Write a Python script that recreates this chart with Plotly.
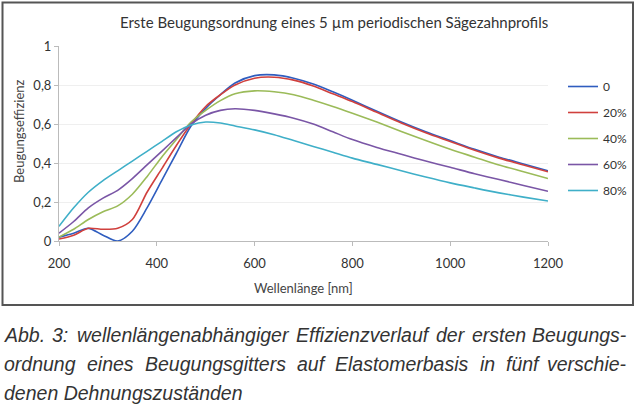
import plotly.graph_objects as go

wavelength = [200, 230, 260, 290, 320, 350, 380, 410, 440, 470, 500, 530, 560, 600,
              640, 680, 720, 760, 800, 850, 900, 950, 1000, 1050, 1100, 1150, 1200]

eff_0 = [0.02, 0.04, 0.065, 0.03, 0.0, 0.05, 0.17, 0.31, 0.45, 0.59, 0.68, 0.75, 0.81, 0.848,
         0.852, 0.835, 0.805, 0.765, 0.722, 0.665, 0.61, 0.56, 0.515, 0.47, 0.43, 0.395, 0.36]
eff_20 = [0.01, 0.03, 0.065, 0.06, 0.065, 0.11, 0.25, 0.37, 0.49, 0.60, 0.69, 0.75, 0.80, 0.835,
          0.84, 0.825, 0.795, 0.755, 0.715, 0.66, 0.605, 0.555, 0.51, 0.465, 0.425, 0.39, 0.355]
eff_40 = [0.02, 0.06, 0.11, 0.15, 0.18, 0.24, 0.33, 0.43, 0.52, 0.61, 0.67, 0.72, 0.755, 0.77,
          0.765, 0.75, 0.722, 0.69, 0.655, 0.61, 0.562, 0.515, 0.47, 0.43, 0.39, 0.355, 0.32]
eff_60 = [0.04, 0.10, 0.17, 0.22, 0.26, 0.32, 0.39, 0.46, 0.53, 0.60, 0.645, 0.67, 0.678, 0.67,
          0.652, 0.63, 0.60, 0.56, 0.52, 0.48, 0.445, 0.41, 0.378, 0.345, 0.315, 0.285, 0.255]
eff_80 = [0.075, 0.17, 0.25, 0.31, 0.36, 0.41, 0.46, 0.51, 0.56, 0.595, 0.61, 0.605, 0.59, 0.57,
          0.545, 0.515, 0.485, 0.455, 0.425, 0.393, 0.36, 0.328, 0.298, 0.272, 0.247, 0.225, 0.205]

series_names = ["0", "20%", "40%", "60%", "80%"]
series_values = [eff_0, eff_20, eff_40, eff_60, eff_80]
series_colors = ["#2F5DBF", "#D0403D", "#9BBB59", "#7A56A6", "#3FAFC8"]

x_ticks = [200, 400, 600, 800, 1000, 1200]
y_ticks = [0, 0.2, 0.4, 0.6, 0.8, 1]

title_text = "Erste Beugungsordnung eines 5 µm periodischen Sägezahnprofils"
x_title = "Wellenlänge [nm]"
y_title = "Beugungseffizienz"
caption_line1 = "Abb. 3: wellenlängenabhängiger Effizienzverlauf der ersten Beugungs-"
caption_line2 = "ordnung eines Beugungsgitters auf Elastomerbasis in fünf verschie-"
caption_line3 = "denen Dehnungszuständen"

W, H = 636, 409
L, R, T, B = 59, 548, 46, 241  # plot area in pixels


def px_x(p):
    return (p - L) / (R - L)


def px_y(p):
    return (B - p) / (B - T)


fig = go.Figure()
for name, vals, col in zip(series_names, series_values, series_colors):
    fig.add_trace(go.Scatter(
        x=wavelength, y=vals, name=name, mode="lines",
        line=dict(color=col, width=1.6, shape="spline", smoothing=0.8),
        legendgroup=name,
    ))

axis_font = dict(family="Lato", size=13, color="#333")
fig.update_layout(
    width=W, height=H,
    margin=dict(l=L, r=W - R, t=T, b=H - B, pad=0, autoexpand=False),
    paper_bgcolor="white", plot_bgcolor="white",
    separators=",.",
    font=dict(family="Lato", color="#333"),
    showlegend=True,
    legend=dict(
        x=px_x(563), y=px_y(72), xanchor="left", yanchor="top",
        font=dict(family="Lato", size=12, color="#333"),
        tracegroupgap=7, itemwidth=30, bgcolor="rgba(0,0,0,0)",
    ),
    xaxis=dict(
        range=[200, 1200], tickvals=x_ticks, ticks="outside", ticklen=4,
        tickcolor="#bbb", showline=True, linecolor="#bbb", linewidth=1,
        showgrid=False, zeroline=False, tickfont=axis_font, ticklabelstandoff=6,
    ),
    yaxis=dict(
        range=[0, 1], tickvals=y_ticks, ticks="outside", ticklen=4,
        tickcolor="#bbb", showline=True, linecolor="#bbb", linewidth=1,
        showgrid=True, gridcolor="#efefef", zeroline=False, tickfont=axis_font,
    ),
)


def add_text(text, xp, yp, font, xanchor="center", angle=0):
    fig.add_annotation(text=text, xref="paper", yref="paper",
                       x=px_x(xp), y=px_y(yp), xanchor=xanchor, yanchor="middle",
                       showarrow=False, textangle=angle, font=font, borderpad=0)


add_text(title_text, 334, 22, dict(family="Lato", size=15, color="#333"))
add_text(x_title, 303, 288, dict(family="Lato", size=13, color="#444"))
add_text(y_title, 19, 131, dict(family="Lato", size=13, color="#444"), angle=-90)

# Arial / Liberation Sans advance widths (per 1000 em) for justified caption layout
ADV = {"A": 667, "B": 667, "D": 722, "E": 667, "a": 556, "b": 556, "c": 500, "d": 556,
       "e": 556, "f": 278, "g": 556, "h": 556, "i": 222, "l": 222, "m": 833, "n": 556,
       "o": 556, "r": 333, "s": 500, "t": 278, "u": 556, "v": 500, "w": 722, "z": 500,
       "ä": 556, "ü": 556, ".": 278, ":": 278, "-": 333, "3": 556}
CAP_SIZE = 19.5
cap_font = dict(family="Liberation Sans", size=CAP_SIZE, color="#333")
CAP_LEFT, CAP_RIGHT = 3, 628


def word_width(w):
    return sum(ADV.get(c, 556) for c in w) * CAP_SIZE / 1000.0


for line, ypx in ((caption_line1, 334.5), (caption_line2, 364)):
    words = line.split(" ")
    widths = [word_width(w) for w in words]
    gap = (CAP_RIGHT - CAP_LEFT - sum(widths)) / (len(words) - 1)
    xpos = CAP_LEFT
    for j, (w, wd) in enumerate(zip(words, widths)):
        if j == len(words) - 1:
            add_text("<i>" + w + "</i>", CAP_RIGHT, ypx, cap_font, xanchor="right")
        else:
            add_text("<i>" + w + "</i>", xpos, ypx, cap_font, xanchor="left")
        xpos += wd + gap
add_text("<i>" + caption_line3 + "</i>", CAP_LEFT, 393, cap_font, xanchor="left")

fig.add_shape(type="rect", xref="paper", yref="paper",
              x0=px_x(2.5), x1=px_x(633), y0=px_y(305), y1=px_y(2.5),
              line=dict(color="#555", width=2))

fig.write_html("out.html")
